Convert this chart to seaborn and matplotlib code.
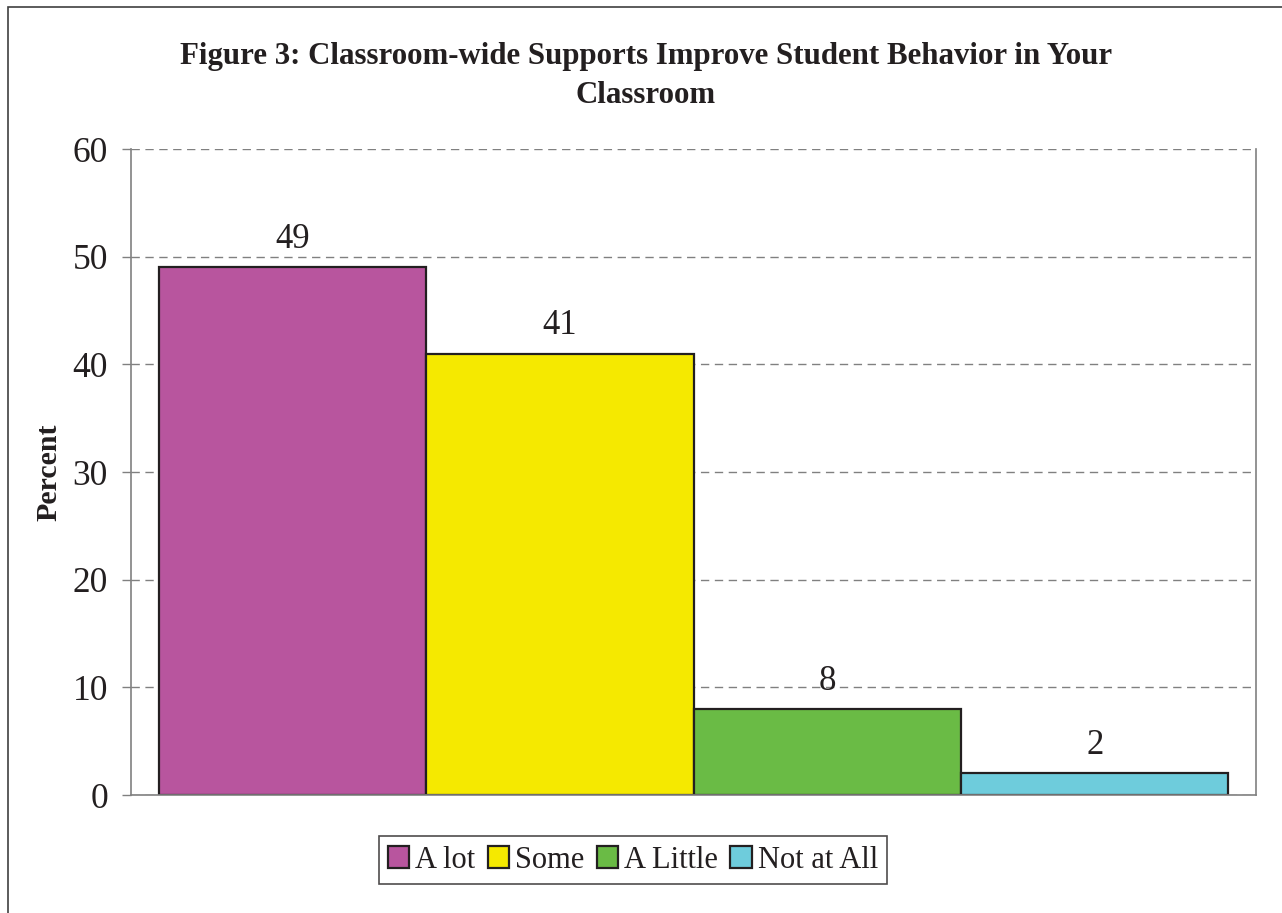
import matplotlib
matplotlib.use("Agg")
import matplotlib.pyplot as plt
from matplotlib.patches import Rectangle
import seaborn as sns
import pandas as pd

# Survey responses and their shares (percent)
responses = ["A lot", "Some", "A Little", "Not at All"]
percents = [49, 41, 8, 2]
bar_colors = ["#B8559E", "#F5E900", "#6ABB45", "#6ECCDC"]
y_ticks = [0, 10, 20, 30, 40, 50, 60]

title = "Figure 3: Classroom-wide Supports Improve Student Behavior in Your\nClassroom"
y_label = "Percent"

sns.set_theme(style="white")
plt.rcParams["font.family"] = ["Liberation Serif", "DejaVu Serif"]

df = pd.DataFrame({"response": responses, "percent": percents})

fig = plt.figure(figsize=(12.82, 9.13), dpi=100)
ax = fig.add_axes([131 / 1282, 1 - 795 / 913, (1256 - 131) / 1282, (795 - 149) / 913])

sns.barplot(
    data=df, x="response", y="percent", hue="response",
    palette=bar_colors, width=1.0, edgecolor="#231F20", linewidth=1.6,
    legend=True, ax=ax, saturation=1,
)

# value labels above the bars
for cont, v in zip(ax.containers, percents):
    ax.bar_label(cont, labels=[f"{v}"], padding=8, fontsize=25, color="#231F20")

ax.set_xlim(-0.603, 3.603)
ax.set_ylim(0, 60)
ax.set_yticks(y_ticks)
ax.set_xticks([])
ax.set_xlabel("")
ax.set_ylabel(y_label, fontsize=21.5, fontweight="bold", color="#231F20", labelpad=7)
ax.tick_params(axis="y", which="both", left=True, length=6.5, width=1.0,
               color="#808080", pad=10, labelsize=25.5, labelcolor="#231F20")

# dashed horizontal gridlines
ax.yaxis.grid(True, linestyle=(0, (6, 4)), color="#808080", linewidth=1.0)
ax.set_axisbelow(True)
for side in ["left", "right", "bottom"]:
    ax.spines[side].set_visible(True)
    ax.spines[side].set_color("#808080")
    ax.spines[side].set_linewidth(1.2)
ax.spines["top"].set_visible(False)

# legend below the plot area
sns.move_legend(
    ax, "center", bbox_to_anchor=(633 / 1282, 1 - 860 / 913),
    bbox_transform=fig.transFigure, ncol=4, title=None, frameon=True,
    fancybox=False, fontsize=22, handlelength=0.7, handleheight=0.7,
    handletextpad=0.2, columnspacing=0.4, borderpad=0.3,
    borderaxespad=0,
)
leg = ax.get_legend()
leg.get_frame().set_edgecolor("#231F20")
leg.get_frame().set_linewidth(1.2)
for t in leg.get_texts():
    t.set_color("#231F20")

fig.text(646 / 1282, 1 - 76 / 913, title, ha="center", va="center",
         fontsize=22.2, fontweight="bold", color="#231F20", linespacing=1.45)

# outer chart border
fig.patches.append(Rectangle((8 / 1282, -0.2), 1.2, 1.2 - 7 / 913,
                             transform=fig.transFigure, fill=False,
                             edgecolor="#404040", linewidth=1.2))

fig.savefig("out.png", dpi=100, facecolor="white")
